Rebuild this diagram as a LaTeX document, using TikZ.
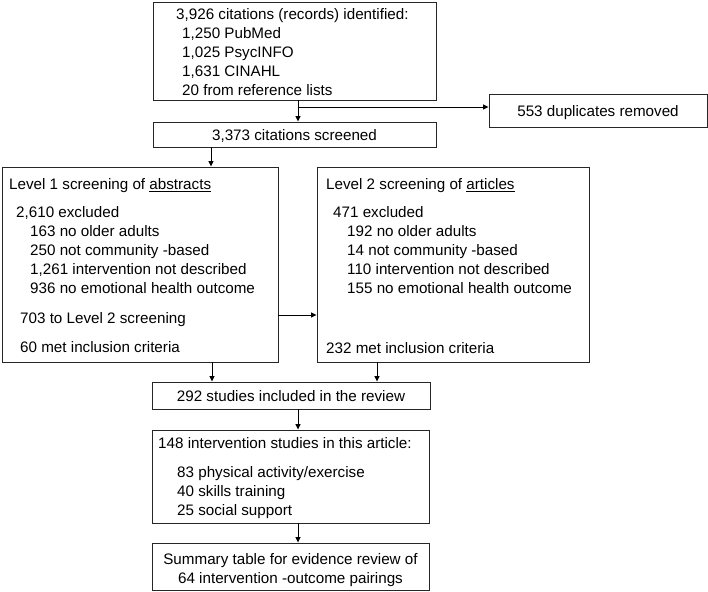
\documentclass[tikz,border=0pt]{standalone}
\usepackage{fontspec}
\setmainfont{Liberation Sans}
\usepackage{tikz}
\usetikzlibrary{arrows.meta}

\begin{document}
\begin{tikzpicture}[x=1pt, y=-1pt,
    font={\fontsize{15.2}{18.9}\selectfont},
    box/.style={draw=black!85, line width=0.9pt, inner sep=0pt},
    oneline/.style={text height=11pt, text depth=0pt},
    txt/.style={align=left, inner sep=0pt, anchor=north west},
    >={Triangle[length=5.5pt,width=5pt]}]

    \useasboundingbox (0,0) rectangle (708,591);

    % boxes
    \node[box, minimum width=283, minimum height=98]           (ident)    at (294.5, 51)    {};
    \node[box, oneline, minimum width=283, minimum height=25]  (screened) at (294.5, 134.5) {3,373 citations screened};
    \node[box, oneline, minimum width=218, minimum height=33]  (dup)      at (598, 110.5)   {553 duplicates removed};
    \node[box, minimum width=276, minimum height=195]          (lvl1)     at (140, 264.5)   {};
    \node[box, minimum width=272, minimum height=195]          (lvl2)     at (453, 264.5)   {};
    \node[box, oneline, minimum width=278, minimum height=27]  (incl)     at (291, 395.5)   {292 studies included in the review};
    \node[box, minimum width=277, minimum height=93]           (art)      at (290.5, 476.5) {};
    \node[box, minimum width=277, minimum height=47]           (summ)     at (290.5, 566.5) {};

    % texts inside the boxes
    \node[txt] (identtxt) at (176, 8.3) {3,926 citations (records) identified:\\
        \hspace*{6pt}1,250 PubMed\\
        \hspace*{6pt}1,025 PsycINFO\\
        \hspace*{6pt}1,631 CINAHL\\
        \hspace*{6pt}20 from reference lists};

    \node[txt] (lvl1txt) at (9, 178.3) {Level 1 screening of \underline{abstracts}\\[9.5pt]
        \hspace*{7pt}2,610 excluded\\
        \hspace*{21pt}163 no older adults\\
        \hspace*{21pt}250 not community -based\\
        \hspace*{21pt}1,261 intervention not described\\
        \hspace*{21pt}936 no emotional health outcome\\[11pt]
        \hspace*{11pt}703 to Level 2 screening\\[10.5pt]
        \hspace*{11pt}60 met inclusion criteria};

    \node[txt] (lvl2txt) at (326, 178.3) {Level 2 screening of \underline{articles}\\[9.5pt]
        \hspace*{7pt}471 excluded\\
        \hspace*{21pt}192 no older adults\\
        \hspace*{21pt}14 not community -based\\
        \hspace*{21pt}110 intervention not described\\
        \hspace*{21pt}155 no emotional health outcome\\[41pt]
        232 met inclusion criteria};

    \node[txt] (arttxt) at (158, 437.3) {148 intervention studies in this article:\\[10pt]
        \hspace*{19pt}83 physical activity/exercise\\
        \hspace*{19pt}40 skills training\\
        \hspace*{19pt}25 social support};

    \node[align=center, inner sep=0pt, anchor=north] (summtxt) at (290.5, 553)
        {Summary table for evidence review of\\64 intervention -outcome pairings};

    % arrows
    \coordinate (split) at (298, 107);
    \draw[line width=0.9pt] ([xshift=3.5]ident.south) edge[->] ([xshift=3.5]ident.south |- screened.north);
    \draw[line width=0.9pt] (split) edge[->] (split -| dup.west);
    \draw[line width=0.9pt] ([xshift=-83.5]screened.south) edge[->] ([xshift=-83.5]screened.south |- lvl1.north);
    \draw[line width=0.9pt] ([yshift=-50.5]lvl1.east) edge[->] ([yshift=-50.5]lvl2.west);
    \draw[line width=0.9pt] ([xshift=72]lvl1.south) edge[->] ([xshift=72]lvl1.south |- incl.north);
    \draw[line width=0.9pt] ([xshift=-76]lvl2.south) edge[->] ([xshift=-76]lvl2.south |- incl.north);
    \draw[line width=0.9pt] ([xshift=7]incl.south) edge[->] ([xshift=7]incl.south |- art.north);
    \draw[line width=0.9pt] ([xshift=7.5]art.south) edge[->] ([xshift=7.5]art.south |- summ.north);
\end{tikzpicture}
\end{document}
